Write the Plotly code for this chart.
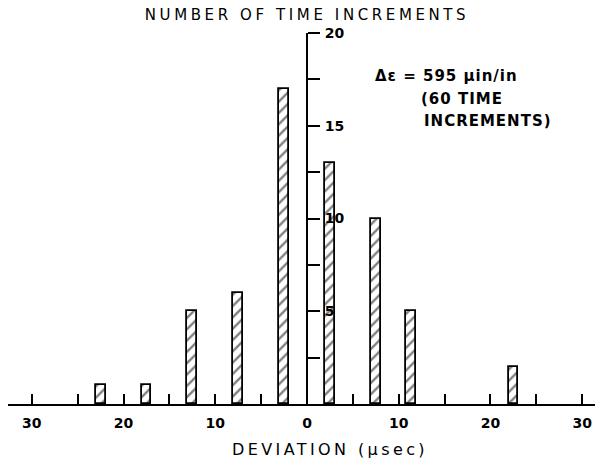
import plotly.graph_objects as go

# Histogram of timing deviations (bar centres in microseconds, counts of time increments)
deviation = [-22.5, -17.5, -12.5, -7.5, -2.5, 2.5, 7.5, 11.3, 22.5]
counts = [1, 1, 5, 6, 17, 13, 10, 5, 2]

x_tick_vals = [-30, -20, -10, 0, 10, 20, 30]
x_tick_text = ["30", "20", "10", "0", "10", "20", "30"]
x_minor_vals = [-25, -15, -5, 5, 15, 25]
y_tick_vals = [5, 10, 15, 20]
y_tick_text = ["5", "10", "15", "20"]
y_minor_vals = [2.5, 7.5, 12.5, 17.5]

XMIN, XMAX = -32.6, 31.4
YMIN, YMAX = 0, 20

W, H = 595, 462
ML, MR, MT, MB = 8, 0, 33, 58
PW, PH = W - ML - MR, H - MT - MB

FONT = "DejaVu Sans"


def spaced(text, px):
    return f'<span style="letter-spacing:{px}px">{text}</span>'


def px_to_paper(px, py):
    return (px - ML) / PW, (H - MB - py) / PH


fig = go.Figure(
    go.Bar(
        x=deviation,
        y=counts,
        width=1.06,
        marker=dict(
            color="white",
            line=dict(color="black", width=1.8),
            pattern=dict(shape="/", fgcolor="black", bgcolor="white",
                         size=8, solidity=0.3),
        ),
        hoverinfo="x+y",
    )
)

fig.update_layout(
    width=W,
    height=H,
    autosize=False,
    margin=dict(l=ML, r=MR, t=MT, b=MB, pad=0),
    paper_bgcolor="white",
    plot_bgcolor="white",
    showlegend=False,
    bargap=0,
    title=dict(
        text=spaced("NUMBER OF TIME INCREMENTS", 3.6),
        x=307 / W,
        y=1 - 15 / H,
        xref="container",
        yref="container",
        xanchor="center",
        yanchor="middle",
        font=dict(family=FONT, size=15, color="black"),
    ),
    xaxis=dict(
        range=[XMIN, XMAX],
        showgrid=False,
        zeroline=False,
        showline=True,
        linecolor="black",
        linewidth=2,
        ticks="inside",
        ticklen=10,
        tickwidth=1.5,
        tickcolor="black",
        tickvals=x_tick_vals,
        ticktext=x_tick_text,
        ticklabelstandoff=5,
        tickfont=dict(family=FONT, size=14, color="black", weight="bold"),
        minor=dict(tickvals=x_minor_vals, ticks="inside", ticklen=10,
                   tickwidth=1.5, tickcolor="black", showgrid=False),
        fixedrange=True,
    ),
    yaxis=dict(
        range=[YMIN, YMAX],
        anchor="free",
        position=(0 - XMIN) / (XMAX - XMIN),
        side="right",
        showgrid=False,
        zeroline=False,
        showline=True,
        linecolor="black",
        linewidth=2,
        ticks="outside",
        ticklen=12,
        tickwidth=1.5,
        tickcolor="black",
        tickvals=y_tick_vals,
        ticktext=y_tick_text,
        ticklabelstandoff=2,
        tickfont=dict(family=FONT, size=14, color="black", weight="bold"),
        minor=dict(tickvals=y_minor_vals, ticks="outside", ticklen=12,
                   tickwidth=1.5, tickcolor="black", showgrid=False),
        fixedrange=True,
    ),
)

# x-axis caption
cx, cy = px_to_paper(330, 449)
fig.add_annotation(
    text=spaced("DEVIATION (μsec)", 3.4),
    x=cx, y=cy, xref="paper", yref="paper",
    xanchor="center", yanchor="middle", showarrow=False,
    font=dict(family=FONT, size=16, color="black"),
)

# strain note
note_lines = [
    ("Δε = 595 μin/in", 373, 76),
    ("(60 TIME", 419, 99),
    ("INCREMENTS)", 422, 121),
]
for text, px, py in note_lines:
    ax, ay = px_to_paper(px, py)
    fig.add_annotation(
        text=spaced(text, 1.0),
        x=ax, y=ay, xref="paper", yref="paper",
        xanchor="left", yanchor="middle", showarrow=False,
        font=dict(family=FONT, size=15, color="black", weight="bold"),
    )

fig.write_html("out.html")
